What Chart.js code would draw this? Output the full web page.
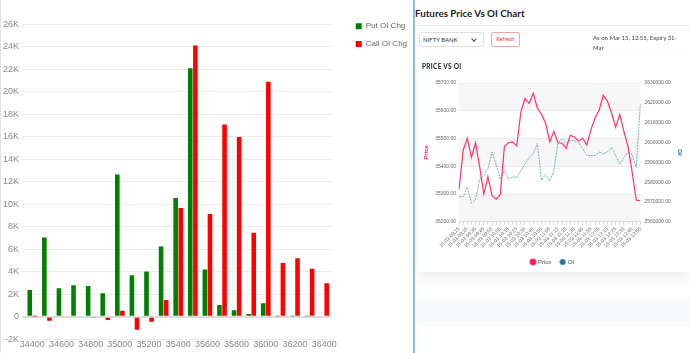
<!DOCTYPE html>
<html>
<head>
<meta charset="utf-8">
<script src="https://cdn.jsdelivr.net/npm/chart.js@4.4.1/dist/chart.umd.min.js"></script>
<style>
  body { margin: 0; width: 690px; height: 353px; overflow: hidden; background: #fff; position: relative; font-family: 'Lato', 'Liberation Sans', sans-serif; }
  #leftEdge { position: absolute; left: 0; top: 0; width: 1px; height: 353px; background: #e2e2e2; }
  #oiWrap { position: absolute; left: 0; top: 0; width: 412px; height: 353px; }
  #divider { position: absolute; left: 413px; top: 0; width: 2px; height: 353px; background: #8fb9e6; }
  #title { position: absolute; left: 415px; top: 7px; font-size: 9.8px; font-weight: 700; color: #1d1d1d; white-space: nowrap; }
  #hr { position: absolute; left: 415px; top: 25px; width: 275px; height: 1px; background: #ececec; }
  #select { position: absolute; left: 419px; top: 32px; width: 60px; height: 13px; border: 1px solid #dedede; border-radius: 3px; font-size: 6px; color: #333; line-height: 13px; padding-left: 3px; box-sizing: content-box; }
  #select .chev { position: absolute; right: 7px; top: 4px; width: 3px; height: 3px; border-right: 1px solid #444; border-bottom: 1px solid #444; transform: rotate(45deg); }
  #refresh { position: absolute; left: 491px; top: 32px; width: 27px; height: 13px; border: 1px solid #f2a3aa; border-radius: 2px; font-size: 5.5px; color: #e2404f; line-height: 13px; text-align: center; }
  #asOn { position: absolute; left: 593px; top: 33px; font-size: 6px; color: #444; line-height: 10px; white-space: nowrap; }
  #card { position: absolute; left: 418px; top: 56px; width: 272px; height: 216px; background: #fff; box-shadow: 0 7px 12px rgba(0,0,0,0.07); }
  #cardTitle { position: absolute; left: 4px; top: 7px; font-size: 6.5px; font-weight: 700; letter-spacing: 0.3px; color: #222; }
  #pvWrap { position: absolute; left: 421px; top: 74px; width: 263px; height: 201px; }
  #band { position: absolute; left: 416px; top: 300px; width: 274px; height: 26px; background: #f7f8fa; }
</style>
</head>
<body>
<div id="leftEdge"></div>
<div id="oiWrap"><canvas id="oiChart"></canvas></div>
<div id="divider"></div>
<div id="title">Futures Price Vs OI Chart</div>
<div id="hr"></div>
<div id="select">NIFTY BANK<span class="chev"></span></div>
<div id="refresh">Refresh</div>
<div id="asOn">As on Mar 15, 12:55, Expiry 31-<br>Mar</div>
<div id="card"><div id="cardTitle">PRICE VS OI</div></div>
<div id="band"></div>
<div id="pvWrap"><canvas id="pvChart"></canvas></div>
<script>
// strikes + OI change (left chart)
const strikes = ['34400', '34500', '34600', '34700', '34800', '34900', '35000', '35100', '35200', '35300', '35400',
  '35500', '35600', '35700', '35800', '35900', '36000', '36100', '36200', '36300', '36400'];
const putOiChg = [2380, 7050, 2530, 2800, 2740, 2080, 12650, 3690, 4020, 6250, 10570,
  22100, 4200, 1040, 570, 240, 1190, 50, 50, 50, 0];
const callOiChg = [20, -360, -90, 0, -120, -300, 540, -1160, -450, 1490, 9670,
  24140, 9140, 17100, 16000, 7470, 20900, 4790, 5210, 4260, 2980];

// futures price vs OI (right chart)
const times = ['15-03 09:15', '15-03 09:20', '15-03 09:25', '15-03 09:30', '15-03 09:35', '15-03 09:40', '15-03 09:45',
  '15-03 09:50', '15-03 09:55', '15-03 10:00', '15-03 10:05', '15-03 10:10', '15-03 10:15', '15-03 10:20', '15-03 10:25',
  '15-03 10:30', '15-03 10:35', '15-03 10:40', '15-03 10:45', '15-03 10:50', '15-03 10:55', '15-03 11:00', '15-03 11:05',
  '15-03 11:10', '15-03 11:15', '15-03 11:20', '15-03 11:25', '15-03 11:30', '15-03 11:35', '15-03 11:40', '15-03 11:45',
  '15-03 11:50', '15-03 11:55', '15-03 12:00', '15-03 12:05', '15-03 12:10', '15-03 12:15', '15-03 12:20', '15-03 12:25',
  '15-03 12:30', '15-03 12:35', '15-03 12:40', '15-03 12:45', '15-03 12:50', '15-03 12:55'];
const price = [35318, 35458, 35501, 35432, 35485, 35398, 35300, 35363, 35294, 35282, 35298, 35471, 35485, 35488, 35473,
  35595, 35644, 35627, 35663, 35609, 35587, 35556, 35489, 35526, 35485, 35483, 35465, 35512, 35505, 35491,
  35501, 35477, 35532, 35574, 35602, 35656, 35635, 35593, 35541, 35587, 35526, 35471, 35379, 35278, 35276];
const oi = [2572740, 2572740, 2577540, 2569480, 2571200, 2581480, 2583200, 2586630, 2595200, 2588860,
  2581480, 2585770, 2581480, 2582680, 2582340, 2585770, 2589200, 2592280, 2594340, 2599480,
  2580970, 2584050, 2580630, 2585770, 2599830, 2602060, 2599830, 2601200, 2600860, 2599830,
  2596910, 2593480, 2593480, 2593480, 2595200, 2594340, 2595200, 2597430, 2593480, 2589200,
  2592280, 2595200, 2594000, 2587480, 2619370];

//moves the right legend away from the plot a bit
const legendPos = {
  id: 'legendPos',
  afterLayout(chart) {
    const lg = chart.legend;
    lg.left = 346;
    lg.right = 412;
    lg.width = 66;
    lg.top = 12.5;
  }
};

//shaded bands behind price chart
const bandPlugin = {
  id: 'bands',
  beforeDraw(chart) {
    const { ctx, chartArea, scales } = chart;
    const ticks = scales.y.ticks;
    ctx.save();
    ctx.fillStyle = '#f6f6f6';
    for (let i = 0; i < ticks.length - 1; i += 2) {
      const y1 = scales.y.getPixelForValue(ticks[i].value);
      const y2 = scales.y.getPixelForValue(ticks[i + 1].value);
      ctx.fillRect(chartArea.left, y2, chartArea.right - chartArea.left, y1 - y2);
    }
    ctx.restore();
  }
};

new Chart(document.getElementById('oiChart'), {
  type: 'bar',
  data: {
    labels: strikes,
    datasets: [
      { label: 'Put OI Chg', data: putOiChg, backgroundColor: '#008000', categoryPercentage: 0.7, barPercentage: 0.9 },
      { label: 'Call OI Chg', data: callOiChg, backgroundColor: '#ff0000', categoryPercentage: 0.7, barPercentage: 0.9 }
    ]
  },
  options: {
    animation: false,
    responsive: true,
    maintainAspectRatio: false,
    layout: { padding: { left: 0, top: 24.5, right: 9.5, bottom: 3 } },
    plugins: {
      legend: {
        position: 'right',
        align: 'start',
        labels: { boxWidth: 6, boxHeight: 6, padding: 9.7, color: '#666', font: { size: 8 } }
      },
      tooltip: { enabled: false }
    },
    scales: {
      x: {
        grid: { display: false, drawTicks: false },
        border: { display: false },
        ticks: {
          color: '#888', font: { size: 9 }, padding: 0, autoSkip: false, maxRotation: 0,
          callback: function (v, i) { return i % 2 === 0 ? this.getLabelForValue(v) : ''; }
        }
      },
      y: {
        min: -2000,
        max: 26000,
        grid: {
          color: (c) => c.tick && c.tick.value === 0 ? '#dcdcdc' : '#ebebeb',
          lineWidth: (c) => c.tick && c.tick.value === 0 ? 2 : 1,
          tickLength: 3
        },
        border: { display: false },
        ticks: {
          stepSize: 2000, color: '#888', font: { size: 9 }, padding: 3,
          callback: (v) => v === 0 ? '0' : (v / 1000) + 'K'
        }
      }
    }
  },
  plugins: [legendPos]
});

new Chart(document.getElementById('pvChart'), {
  type: 'line',
  data: {
    labels: times,
    datasets: [
      { label: 'Price', data: price, yAxisID: 'y', borderColor: '#ff3366', backgroundColor: '#ff1654', borderWidth: 1.2, pointRadius: 0, tension: 0 },
      { label: 'OI', data: oi, yAxisID: 'y1', borderColor: 'rgba(96,158,190,0.85)', backgroundColor: '#1b6fa0', borderWidth: 1, borderDash: [2, 1], pointRadius: 0, tension: 0 }
    ]
  },
  options: {
    animation: false,
    responsive: true,
    maintainAspectRatio: false,
    layout: { padding: { top: 9, bottom: 0, left: 0, right: 0 } },
    plugins: {
      legend: {
        position: 'bottom',
        labels: { usePointStyle: true, pointStyle: 'circle', boxWidth: 4, boxHeight: 4, padding: 9, color: '#555', font: { size: 6 } }
      },
      tooltip: { enabled: false }
    },
    scales: {
      x: {
        grid: { drawOnChartArea: false, tickLength: 3, color: '#ddd' },
        border: { color: '#ddd' },
        ticks: {
          autoSkip: false, maxRotation: 45, minRotation: 45, color: '#666', font: { size: 5 }, padding: 1,
          callback: function (v, i) { return i % 2 === 0 ? this.getLabelForValue(v) : ''; }
        }
      },
      y: {
        position: 'left',
        min: 35200,
        max: 35700,
        grid: { color: '#ebebeb', drawTicks: false },
        border: { display: false },
        ticks: { stepSize: 100, color: '#666', font: { size: 5 }, padding: 3, callback: (v) => v.toFixed(2) },
        title: { display: true, text: 'Price', color: '#ff1654', font: { size: 6, weight: 'bold' }, padding: { top: 2, bottom: 2 } }
      },
      y1: {
        position: 'right',
        min: 2560000,
        max: 2630000,
        grid: { drawOnChartArea: false, drawTicks: false },
        border: { display: false },
        ticks: { stepSize: 10000, color: '#666', font: { size: 5 }, padding: 4, callback: (v) => v.toFixed(2) },
        title: { display: true, text: 'OI', color: '#1b6fa0', font: { size: 6, weight: 'bold' }, padding: { top: 1, bottom: 1 } }
      }
    }
  },
  plugins: [bandPlugin]
});
</script>
</body>
</html>
